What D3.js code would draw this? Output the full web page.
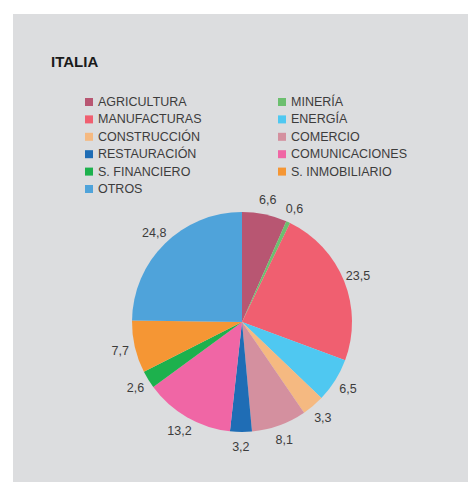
<!DOCTYPE html>
<html><head><meta charset="utf-8">
<script src="https://cdn.jsdelivr.net/npm/d3@7"></script>
<style>body{margin:0;background:#fff}svg{display:block}</style>
</head><body>
<svg id="c" width="469" height="482"></svg>
<script>
const title = "ITALIA";
const categories = ["AGRICULTURA","MINERÍA","MANUFACTURAS","ENERGÍA","CONSTRUCCIÓN","COMERCIO","RESTAURACIÓN","COMUNICACIONES","S. FINANCIERO","S. INMOBILIARIO","OTROS"];
const values = [6.6,0.6,23.5,6.5,3.3,8.1,3.2,13.2,2.6,7.7,24.8];
const labels = ["6,6","0,6","23,5","6,5","3,3","8,1","3,2","13,2","2,6","7,7","24,8"];
const colors = ["#b85672","#6cbf6f","#f05f70","#4fc8f1","#f5b981","#d4909f","#1f6db5","#f066a5","#1db14d","#f59634","#4fa3da"];
const legendOrder = [0,1,2,3,4,5,6,7,8,9,10];

const svg = d3.select("#c");
const font = "'Liberation Sans', Arial, Helvetica, sans-serif";
svg.append("rect").attr("x",13).attr("y",14).attr("width",455).attr("height",468).attr("fill","#dcdddf");
svg.append("text").attr("x",51).attr("y",67).text(title)
  .attr("font-family",font).attr("font-size",15).attr("font-weight","bold").attr("fill","#1a1a1a");

// legend: two columns
const leg = svg.append("g");
legendOrder.forEach((i,k)=>{
  const col = k%2, row = Math.floor(k/2);
  const x = col===0 ? 85 : 278, y = 98 + row*17.4;
  leg.append("rect").attr("x",x).attr("y",y).attr("width",8).attr("height",8).attr("fill",colors[i]);
  leg.append("text").attr("x",x+13).attr("y",y+8).text(categories[i])
    .attr("font-family",font).attr("font-size",12.5).attr("fill","#3c3c3c");
});

const cx=242, cy=322, r=110, lr=125;
const pie = d3.pie().sort(null).value(d=>d)(values);
const arc = d3.arc().innerRadius(0).outerRadius(r);
const g = svg.append("g").attr("transform",`translate(${cx},${cy})`);
g.selectAll("path").data(pie).join("path").attr("d",arc).attr("fill",(d,i)=>colors[i]);
const la = d3.arc().innerRadius(lr).outerRadius(lr);
g.selectAll("text").data(pie).join("text")
  .attr("transform",d=>`translate(${la.centroid(d)})`)
  .attr("text-anchor","middle").attr("dy","0.35em")
  .text((d,i)=>labels[i])
  .attr("font-family",font).attr("font-size",12.5).attr("fill","#3c3c3c");
</script>
</body></html>
